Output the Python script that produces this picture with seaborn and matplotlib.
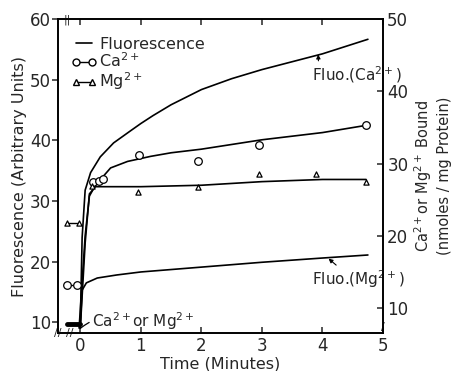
#Fluorescence and Ca2+/Mg2+ binding vs time
import pandas as pd
import matplotlib
matplotlib.use('Agg')
import matplotlib.pyplot as plt
from matplotlib.lines import Line2D
import seaborn as sns

#Fluorescence curves (left axis, arbitrary units)
fluo_ca_t = [-0.22, 0.0, 0.03, 0.08, 0.17, 0.33, 0.55, 0.83, 1.0, 1.2, 1.5, 2.0, 2.5, 3.0, 3.5, 4.0, 4.75]
fluo_ca_v = [9.7, 9.7, 24.0, 31.8, 34.7, 37.3, 39.6, 41.6, 42.8, 44.1, 45.9, 48.4, 50.2, 51.7, 53.0, 54.3, 56.7]
fluo_mg_t = [-0.22, 0.0, 0.03, 0.1, 0.28, 0.6, 1.0, 2.0, 3.0, 4.0, 4.75]
fluo_mg_v = [9.7, 9.7, 15.3, 16.5, 17.3, 17.8, 18.3, 19.1, 19.9, 20.6, 21.1]

#Bound Ca2+ (right axis, nmoles / mg protein)
ca_pre_t = [-0.22, -0.05]
ca_pre_v = [13.2, 13.2]
ca_pts_t = [0.21, 0.31, 0.38, 0.97, 1.95, 2.95, 4.72]
ca_pts_v = [27.5, 27.6, 27.8, 31.2, 30.3, 32.6, 35.3]
ca_fit_t = [-0.02, 0.08, 0.15, 0.25, 0.5, 0.78, 1.16, 1.5, 2.0, 3.0, 4.0, 4.72]
ca_fit_v = [7.2, 20.0, 25.5, 27.0, 29.4, 30.3, 31.0, 31.5, 32.0, 33.3, 34.3, 35.3]

#Bound Mg2+
mg_pre_t = [-0.22, -0.02]
mg_pre_v = [21.7, 21.7]
mg_pts_t = [0.2, 0.95, 1.95, 2.95, 3.9, 4.72]
mg_pts_v = [26.9, 26.1, 26.8, 28.5, 28.5, 27.4]
mg_fit_t = [0.0, 0.08, 0.15, 0.25, 1.0, 2.0, 3.0, 4.0, 4.72]
mg_fit_v = [7.2, 19.0, 25.8, 26.8, 26.8, 27.0, 27.5, 27.8, 27.8]

x_ticks = [0, 1, 2, 3, 4, 5]
left_ticks = [10, 20, 30, 40, 50, 60]
right_ticks = [10, 20, 30, 40, 50]

sns.set_style('white')
plt.rcParams['font.family'] = ['DejaVu Sans']
plt.rcParams['font.size'] = 11

fig = plt.figure(figsize=(4.56, 3.71), dpi=100)
ax = fig.add_axes([0.127, 0.102, 0.713, 0.846])
ax2 = ax.twinx()

lw = 1.2
sns.lineplot(x=fluo_ca_t, y=fluo_ca_v, sort=False, estimator=None, color='k', lw=lw, ax=ax)
sns.lineplot(x=fluo_mg_t, y=fluo_mg_v, sort=False, estimator=None, color='k', lw=lw, ax=ax)
#thick baseline before addition
sns.lineplot(x=fluo_mg_t[:2], y=fluo_mg_v[:2], sort=False, estimator=None, color='k', lw=3.5, ax=ax)

sns.lineplot(x=ca_fit_t, y=ca_fit_v, sort=False, estimator=None, color='k', lw=lw, ax=ax2)
sns.lineplot(x=mg_fit_t, y=mg_fit_v, sort=False, estimator=None, color='k', lw=lw, ax=ax2)
sns.lineplot(x=ca_pre_t, y=ca_pre_v, sort=False, estimator=None, color='k', lw=1.0, ax=ax2)
sns.lineplot(x=mg_pre_t, y=mg_pre_v, sort=False, estimator=None, color='k', lw=1.0, ax=ax2)
sns.scatterplot(x=ca_pre_t + ca_pts_t, y=ca_pre_v + ca_pts_v, marker='o', s=30,
                facecolor='white', edgecolor='k', linewidth=0.9, ax=ax2, zorder=5)
sns.scatterplot(x=mg_pre_t + mg_pts_t, y=mg_pre_v + mg_pts_v, marker='^', s=14,
                facecolor='white', edgecolor='k', linewidth=0.9, ax=ax2, zorder=5)

ax.set_xlim(-0.37, 5.0)
ax.set_ylim(8.2, 60)
ax2.set_ylim(6.5, 50)
ax.set_xticks(x_ticks)
ax.set_yticks(left_ticks)
ax2.set_yticks(right_ticks)

for a in (ax, ax2):
    for s in a.spines.values():
        s.set_color('k')
        s.set_linewidth(1.2)
ax.tick_params(axis='y', direction='out', length=4, width=1.1, labelsize=12, pad=1, left=True)
ax.tick_params(axis='x', direction='in', length=4, width=1.1, labelsize=12, pad=3,
               bottom=True, top=True)
ax2.tick_params(axis='y', direction='in', length=4, width=1.1, labelsize=12, pad=3, right=True)

ax.set_xlabel('Time (Minutes)', fontsize=11.5, labelpad=1)
ax.set_ylabel('Fluorescence (Arbitrary Units)', fontsize=11.5, labelpad=2)
ax2.set_ylabel('Ca$^{2+}$or Mg$^{2+}$ Bound\n(nmoles / mg Protein)', fontsize=10.5,
               labelpad=3, linespacing=1.25)

handles = [Line2D([], [], color='k', lw=1.2),
           Line2D([], [], color='k', lw=1.0, marker='o', ms=5, mfc='white', mec='k'),
           Line2D([], [], color='k', lw=1.0, marker='^', ms=4, mfc='white', mec='k')]
ax.legend(handles, ['Fluorescence', 'Ca$^{2+}$', 'Mg$^{2+}$'], loc='upper left',
          bbox_to_anchor=(0.01, 0.975), frameon=False, numpoints=2, handlelength=1.6,
          handletextpad=0.2, labelspacing=0.0, fontsize=11.5, borderaxespad=0.2)

ax.annotate('Fluo.(Ca$^{2+}$)', xy=(3.93, 54.2), xytext=(3.83, 50.9), fontsize=11,
            va='center', arrowprops=dict(arrowstyle='-|>', color='k', lw=0.8,
                                         shrinkA=0, shrinkB=0, mutation_scale=6,
                                         relpos=(0.07, 1.0)))
ax.annotate('Fluo.(Mg$^{2+}$)', xy=(4.1, 20.5), xytext=(3.83, 17.1), fontsize=11,
            va='center', arrowprops=dict(arrowstyle='-|>', color='k', lw=0.8,
                                         shrinkA=0, shrinkB=0, mutation_scale=6,
                                         relpos=(0.3, 1.0)))
ax.annotate('Ca$^{2+}$or Mg$^{2+}$', xy=(0.0, 9.0), xytext=(0.2, 10.2), fontsize=11,
            va='center', arrowprops=dict(arrowstyle='-', color='k', lw=0.9,
                                         shrinkA=0, shrinkB=0,
                                         connectionstyle='arc3,rad=0.3'))

#axis break marks
ax.text(0.0, 0.0, '//', transform=ax.transAxes, fontsize=8, ha='center', va='center')
ax.text(0.035, 0.0, '//', transform=ax.transAxes, fontsize=8, ha='center', va='center')
ax.text(0.03, 1.0, '||', transform=ax.transAxes, fontsize=8, ha='center', va='center')
ax.text(1.0, 0.02, '/', transform=ax.transAxes, fontsize=8, ha='center', va='center')

fig.savefig('out.png', dpi=100)
